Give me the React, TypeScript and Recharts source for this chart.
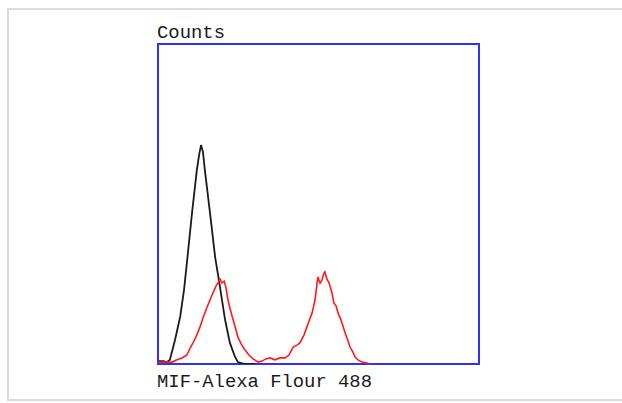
import React from "react";
import { LineChart, Line, XAxis, YAxis, ReferenceArea } from "recharts";

// channel (0-100 across the plot box) vs counts (0-100 of box height)
const controlX = [0, 1.6, 2.8, 3.7, 5.3, 6.9, 8.1, 9.0, 10.6, 12.1, 12.8, 13.4, 14.0, 14.6, 16.2, 17.8, 19.3, 20.9, 22.4, 24.0, 24.9, 27, 30];
const controlY = [0.9, 0.9, 0.6, 1.3, 7.5, 14.7, 23.1, 31.6, 47.2, 60.6, 65.3, 68.4, 66.3, 60.6, 47.2, 33.4, 24.1, 13.8, 6.6, 2.2, 0.6, 0, 0];

const mifX = [0, 2.2, 4.4, 5.9, 7.5, 9.0, 10.0, 10.9, 11.8, 13.1, 14.0, 15.3, 16.2, 17.1, 18.1, 18.7, 19.3, 19.9, 20.6, 21.2, 21.8, 22.7, 23.4, 24.3, 24.9, 25.9, 27.1, 28.3, 29.6, 31.2, 32.4, 33.6, 34.9, 36.4, 38.0, 39.6, 40.8, 42.1, 43.3, 44.2, 45.5, 46.4, 47.4, 48.0, 48.9, 49.5, 49.8, 50.5, 51.1, 51.7, 52.0, 52.6, 53.3, 54.2, 54.8, 55.5, 56.1, 57.0, 58.3, 59.2, 59.8, 60.7, 61.4, 62.3, 63.6, 65.1, 66];
const mifY = [0.6, 0.6, 0.6, 1.3, 1.9, 2.8, 5.0, 6.6, 8.4, 11.6, 14.4, 17.8, 20.0, 22.2, 24.4, 25.3, 26.6, 25.3, 25.9, 23.8, 20.0, 16.3, 13.8, 10.6, 8.4, 6.3, 4.4, 2.8, 1.6, 0.6, 0.9, 1.6, 1.9, 1.3, 1.9, 1.9, 2.8, 5.3, 5.9, 6.6, 9.1, 11.6, 14.4, 15.9, 20.0, 24.7, 27.2, 25.3, 26.3, 28.4, 28.8, 26.6, 25.3, 22.2, 19.1, 18.1, 15.9, 13.8, 9.7, 7.2, 5.3, 3.8, 2.2, 1.3, 0.6, 0.3, 0];

const yLabel = "Counts";
const xLabel = "MIF-Alexa Flour 488";

const control = controlX.map((x, i) => ({ x, y: controlY[i] }));
const mif = mifX.map((x, i) => ({ x, y: mifY[i] }));

const labelFont = "'Liberation Mono', 'DejaVu Sans Mono', monospace";

export default function App() {
  return (
    <div style={{ position: "absolute", left: 0, top: 0, width: 622, height: 403, background: "#fff", overflow: "hidden" }}>
      <div
        style={{
          position: "absolute",
          left: 7,
          top: 8,
          width: 700,
          height: 389,
          border: "2px solid #dcdcdc",
        }}
      />
      <div style={{ position: "absolute", left: 0, top: 0 }}>
        <LineChart width={622} height={403} margin={{ top: 44, right: 143, bottom: 39, left: 158 }}>
          <XAxis type="number" dataKey="x" domain={[0, 100]} hide allowDataOverflow />
          <YAxis type="number" dataKey="y" domain={[0, 100]} hide allowDataOverflow />
          <Line
            data={control}
            dataKey="y"
            type="linear"
            stroke="#1a1a1a"
            strokeWidth={1.8}
            dot={false}
            isAnimationActive={false}
          />
          <Line
            data={mif}
            dataKey="y"
            type="linear"
            stroke="#ff1a1a"
            strokeWidth={1.6}
            dot={false}
            isAnimationActive={false}
          />
          <ReferenceArea x1={0} x2={100} y1={0} y2={100} fill="none" stroke="#3030ff" strokeWidth={2} fillOpacity={0} />
        </LineChart>
      </div>
      <svg width={622} height={403} style={{ position: "absolute", left: 0, top: 0, pointerEvents: "none" }}>
        <text x={157} y={38} fontFamily={labelFont} fontSize={19} fill="#1a1a1a" textLength={68} lengthAdjust="spacingAndGlyphs">
          {yLabel}
        </text>
        <text x={157} y={387} fontFamily={labelFont} fontSize={19} fill="#1a1a1a" textLength={215} lengthAdjust="spacingAndGlyphs">
          {xLabel}
        </text>
      </svg>
    </div>
  );
}
